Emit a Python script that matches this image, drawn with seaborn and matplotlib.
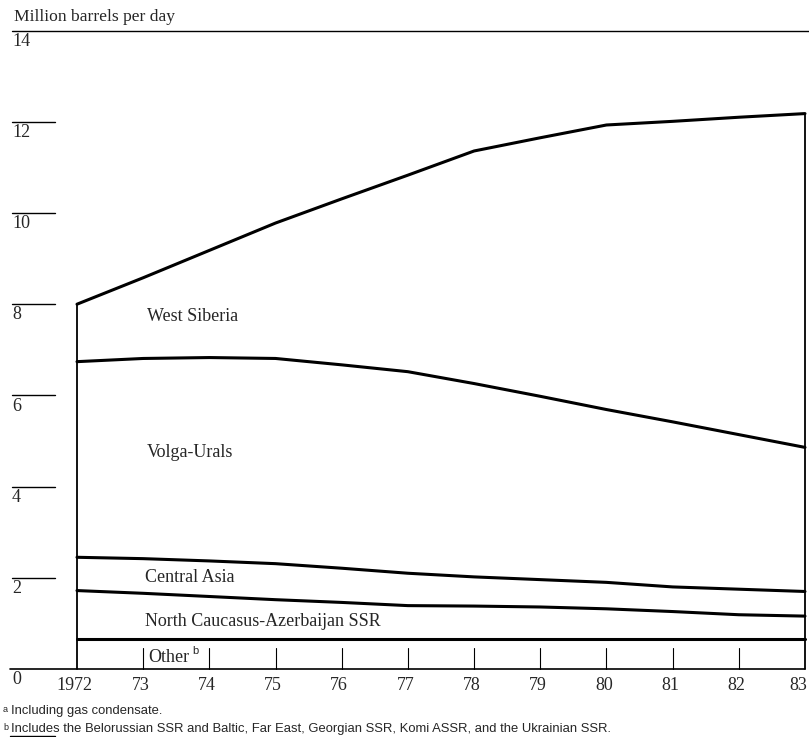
import numpy as np
import pandas as pd
import seaborn as sns
import matplotlib.pyplot as plt

# Soviet oil production by region, million barrels per day
years = [1972, 1973, 1974, 1975, 1976, 1977, 1978, 1979, 1980, 1981, 1982, 1983]
other = [0.65, 0.65, 0.65, 0.65, 0.65, 0.65, 0.65, 0.65, 0.65, 0.65, 0.65, 0.65]
north_caucasus = [1.07, 1.01, 0.94, 0.87, 0.81, 0.74, 0.73, 0.71, 0.67, 0.61, 0.54, 0.51]
central_asia = [0.73, 0.76, 0.78, 0.79, 0.75, 0.71, 0.64, 0.60, 0.58, 0.54, 0.56, 0.54]
volga_urals = [4.29, 4.39, 4.46, 4.50, 4.46, 4.42, 4.24, 4.02, 3.79, 3.62, 3.39, 3.16]
west_siberia = [1.26, 1.77, 2.35, 2.97, 3.64, 4.31, 5.10, 5.67, 6.24, 6.59, 6.96, 7.32]

regions = ['Other', 'North Caucasus-Azerbaijan SSR', 'Central Asia', 'Volga-Urals', 'West Siberia']
region_values = [other, north_caucasus, central_asia, volga_urals, west_siberia]
year_labels = ['1972', '73', '74', '75', '76', '77', '78', '79', '80', '81', '82', '83']
y_ticks = [2, 4, 6, 8, 10, 12, 14]

# stacked tops of each band
tops = np.cumsum(np.array(region_values), axis=0)
rows = []
for name, top in zip(regions, tops):
    for yr, v in zip(years, top):
        rows.append({'year': yr, 'top': v, 'band': name})
df = pd.DataFrame(rows)

sns.set_style('white')
plt.rcParams['font.family'] = ['Liberation Serif', 'DejaVu Serif']

fig = plt.figure(figsize=(8.09, 7.37), dpi=100)
ax = fig.add_axes([0, 0, 1, 1])

sns.lineplot(data=df, x='year', y='top', hue='band', palette={r: 'black' for r in regions},
             linewidth=2.2, legend=False, ax=ax, clip_on=False)

# pixel-to-data mapping so the frame matches the original page
px_per_year = 66.18
px_per_unit = 45.6
ax.set_xlim(1972 - 77 / px_per_year, 1972 + (809 - 77) / px_per_year)
ax.set_ylim(-(737 - 669) / px_per_unit, 669 / px_per_unit)
ax.axis('off')

x0 = ax.get_xlim()[0]
def xpx(p):
    return x0 + p / px_per_year

# side borders of the chart area
ax.plot([years[0], years[0]], [0, tops[-1][0]], color='black', lw=1.3)
ax.plot([years[-1], years[-1]], [0, tops[-1][-1]], color='black', lw=1.3)

# baseline and year ticks
ax.plot([xpx(10), years[-1]], [0, 0], color='black', lw=1.2)
for yr in years[1:-1]:
    ax.plot([yr, yr], [0, 0.46], color='black', lw=0.8)
for yr, lab in zip(years[:-1], year_labels[:-1]):
    ax.text(yr - 0.04, -0.37, lab, ha='center', va='center', fontsize=13)
ax.text(xpx(807), -0.37, year_labels[-1], ha='right', va='center', fontsize=13)

# y ticks as short rules at the left with labels under them
for t in y_ticks:
    right = xpx(809) if t == 14 else xpx(55)
    ax.plot([xpx(12), right], [t, t], color='black', lw=1.0, clip_on=False)
    ax.text(xpx(12), t - 0.05, str(t), ha='left', va='top', fontsize=13)
ax.text(xpx(12), -0.05, '0', ha='left', va='top', fontsize=13)

# band labels
ax.text(1973.06, 7.72, 'West Siberia', ha='left', va='center', fontsize=13)
ax.text(1973.06, 4.74, 'Volga-Urals', ha='left', va='center', fontsize=13)
ax.text(1973.03, 2.0, 'Central Asia', ha='left', va='center', fontsize=13)
ax.text(1973.03, 1.05, 'North Caucasus-Azerbaijan SSR', ha='left', va='center', fontsize=13)
ax.text(1973.08, 0.26, 'Other', ha='left', va='center', fontsize=13)
ax.text(1973.74, 0.40, 'b', ha='left', va='center', fontsize=8, family=['Liberation Sans'])

# title and footnotes
fig.text(14 / 809, 1 - 17 / 737, 'Million barrels per day', ha='left', va='center', fontsize=12.6)
fig.text(3 / 809, 1 - 709 / 737, 'a', ha='left', va='center', fontsize=6.5, family=['Liberation Sans'])
fig.text(11 / 809, 1 - 711 / 737, 'Including gas condensate.', ha='left', va='center',
         fontsize=9.4, family=['Liberation Sans'])
fig.text(3 / 809, 1 - 727 / 737, 'b', ha='left', va='center', fontsize=6.5, family=['Liberation Sans'])
fig.text(11 / 809, 1 - 729 / 737,
         'Includes the Belorussian SSR and Baltic, Far East, Georgian SSR, Komi ASSR, and the Ukrainian SSR.',
         ha='left', va='center', fontsize=9.4, family=['Liberation Sans'])
ax.plot([xpx(10), xpx(55)], [-(736 - 669) / px_per_unit] * 2, color='black', lw=1.0, clip_on=False)

fig.savefig('out.png', dpi=100)
